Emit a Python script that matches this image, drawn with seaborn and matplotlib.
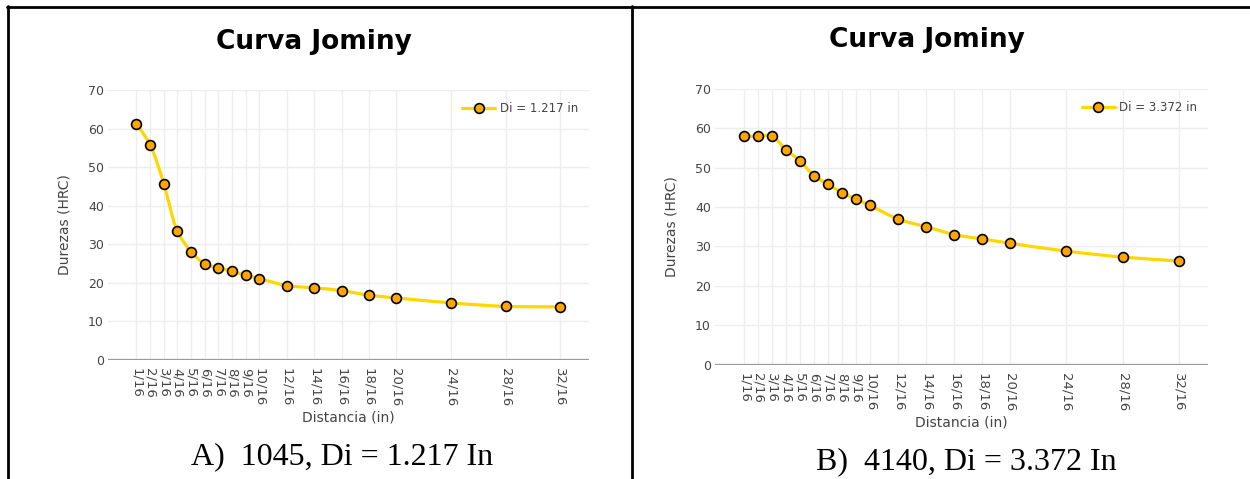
import matplotlib
matplotlib.use("Agg")
import matplotlib.pyplot as plt
from matplotlib.path import Path
from matplotlib.patches import PathPatch
from matplotlib.lines import Line2D
import numpy as np
import seaborn as sns

# Distancia en dieciseisavos de pulgada
distancia = [1, 2, 3, 4, 5, 6, 7, 8, 9, 10, 12, 14, 16, 18, 20, 24, 28, 32]
etiquetas = [f"{d}/16" for d in distancia]

# Durezas (HRC)
dureza_1045 = [61.2, 55.8, 45.7, 33.4, 28.1, 24.9, 23.9, 23.0, 22.0, 21.1,
               19.3, 18.7, 18.0, 16.8, 16.1, 14.8, 13.9, 13.8]
dureza_4140 = [58.0, 58.0, 58.0, 54.5, 51.7, 47.9, 45.8, 43.6, 42.0, 40.4,
               36.9, 35.0, 33.0, 31.9, 30.8, 28.8, 27.3, 26.3]

leyenda_a = "Di = 1.217 in"
leyenda_b = "Di = 3.372 in"
pie_a = "A)  1045, Di = 1.217 In"
pie_b = "B)  4140, Di = 3.372 In"

COLOR_LINEA = "#FFD700"
COLOR_MARCA = "#FFA500"
GRIS = "#444444"

sns.set_style("white")
plt.rcParams['font.family'] = ['DejaVu Sans']

W, H = 1250, 479
fig = plt.figure(figsize=(W / 100, H / 100), dpi=100)


def px_axes(left, right, top, bottom):
    return fig.add_axes([left / W, 1 - bottom / H, (right - left) / W, (bottom - top) / H])


def spline_path(ax, xs, ys, smooth=1.0):
    """Curva suave tipo plotly (Catmull-Rom) calculada en pixeles."""
    pts = ax.transData.transform(np.column_stack([xs, ys]))
    tang = []
    for i in range(1, len(pts) - 1):
        p, t, n = pts[i - 1], pts[i], pts[i + 1]
        d1 = p - t
        d2 = n - t
        d1a = np.hypot(*d1) ** 0.5
        d2a = np.hypot(*d2) ** 0.5
        num = (d2a * d2a * d1 - d1a * d1a * d2) * smooth
        den1 = 3 * d2a * (d1a + d2a)
        den2 = 3 * d1a * (d1a + d2a)
        tang.append((t + num / den1, t - num / den2))
    verts = [pts[0], tang[0][0], pts[1]]
    codes = [Path.MOVETO, Path.CURVE3, Path.CURVE3]
    for i in range(1, len(pts) - 2):
        verts += [tang[i - 1][1], tang[i][0], pts[i + 1]]
        codes += [Path.CURVE4] * 3
    verts += [tang[-1][1], pts[-1]]
    codes += [Path.CURVE3] * 2
    verts = ax.transData.inverted().transform(np.array(verts))
    return Path(verts, codes)


def jominy(ax, durezas, leyenda):
    ax.set_xlim(-1.08, 34.1)
    ax.set_ylim(0, 70)
    ax.set_xticks(distancia)
    ax.set_xticklabels(etiquetas, rotation=-90, fontsize=9.5, color=GRIS)
    ax.set_yticks(range(0, 71, 10))
    ax.tick_params(axis='y', labelsize=9, colors=GRIS, length=0, pad=3)
    ax.tick_params(axis='x', length=0, pad=6)
    ax.grid(True, color="#eeeeee", linewidth=1)
    for s in ax.spines.values():
        s.set_visible(False)
    ax.axhline(0, color="#999999", linewidth=1.6, zorder=2)

    path = spline_path(ax, distancia, durezas)
    ax.add_patch(PathPatch(path, facecolor='none', edgecolor=COLOR_LINEA,
                           linewidth=2.3, zorder=3, capstyle='round'))
    sns.scatterplot(x=distancia, y=durezas, ax=ax, color=COLOR_MARCA,
                    edgecolor="black", linewidth=1.2, s=50, zorder=4, legend=False)

    ax.set_xlabel("Distancia (in)", fontsize=10, color=GRIS, labelpad=3)
    ax.set_ylabel("Durezas (HRC)", fontsize=10, color=GRIS, labelpad=12)

    handle = Line2D([], [], color=COLOR_LINEA, linewidth=2.3, marker='o',
                    markerfacecolor=COLOR_MARCA, markeredgecolor="black",
                    markeredgewidth=1.2, markersize=7)
    ax.legend([handle], [leyenda], loc='upper right', bbox_to_anchor=(1.0, 0.995),
              frameon=False, fontsize=8.5, labelcolor=GRIS, handlelength=2.8,
              handletextpad=0.4)


ax_a = px_axes(108, 589, 90, 360)
jominy(ax_a, dureza_1045, leyenda_a)
ax_b = px_axes(715, 1208, 89, 364.5)
jominy(ax_b, dureza_4140, leyenda_b)

# Titulos y pies de figura
fig.text(314 / W, 1 - 42 / H, "Curva Jominy", ha='center', va='center',
         fontsize=19, fontweight='black', color='black')
fig.text(927 / W, 1 - 40 / H, "Curva Jominy", ha='center', va='center',
         fontsize=19, fontweight='black', color='black')
fig.text(342 / W, 1 - 457 / H, pie_a, ha='center', va='center',
         fontsize=23, family='Liberation Serif', color='black')
fig.text(966 / W, 1 - 462 / H, pie_b, ha='center', va='center',
         fontsize=23, family='Liberation Serif', color='black')

# Bordes de la tabla
borde = dict(color='black', linewidth=2, transform=fig.transFigure)
fig.add_artist(Line2D([7 / W, 1], [1 - 7 / H, 1 - 7 / H], **borde))
fig.add_artist(Line2D([8 / W, 8 / W], [0, 1 - 6 / H], **borde))
fig.add_artist(Line2D([632 / W, 632 / W], [0, 1 - 6 / H], **borde))

fig.savefig("out.png", dpi=100)
